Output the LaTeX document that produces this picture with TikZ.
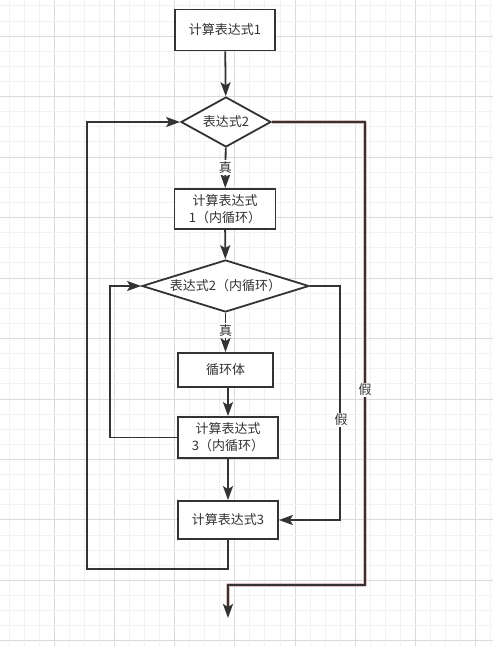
\documentclass[tikz,border=0pt]{standalone}
\usepackage{fontspec}
\setmainfont{Noto Sans CJK SC}
\usetikzlibrary{arrows.meta,shapes.geometric}
\definecolor{ink}{RGB}{51,51,51}
\definecolor{gridminor}{RGB}{242,242,242}
\definecolor{gridmajor}{RGB}{218,218,218}
\definecolor{halo}{RGB}{222,190,190}
\tikzset{
  box/.style={draw=ink, line width=1.8, fill=white, inner sep=2, align=center,
    font=\fontsize{13}{17}\selectfont, text=ink},
  cond/.style={draw=ink, line width=1.8, fill=white, shape=diamond, inner sep=0,
    font=\fontsize{13}{17}\selectfont, text=ink},
  flow/.style={draw=ink, line width=1.8, -{Stealth[length=14, width=10, inset=3]}},
  tag/.style={fill=white, inner sep=1.5, font=\fontsize{13}{16}\selectfont, text=ink}
}
\begin{document}
\begin{tikzpicture}[x=1pt,y=-1pt]
\useasboundingbox (0,0) rectangle (493,646);
\fill[white] (0,0) rectangle (493,646);
% grid
\foreach \i in {0,...,32} {
  \pgfmathsetmacro{\gx}{9+15.05*\i}
  \pgfmathtruncatemacro{\gm}{mod(\i,4)}
  \ifnum\gm=3 \draw[gridmajor, line width=0.8] (\gx,0) -- (\gx,646);
  \else \draw[gridminor, line width=0.8] (\gx,0) -- (\gx,646); \fi
}
\foreach \j in {0,...,42} {
  \pgfmathsetmacro{\gy}{5.8+15.12*\j}
  \pgfmathtruncatemacro{\gm}{mod(\j,4)}
  \ifnum\gm=2 \draw[gridmajor, line width=0.8] (0,\gy) -- (493,\gy);
  \else \draw[gridminor, line width=0.8] (0,\gy) -- (493,\gy); \fi
}
% outer loop
\node[box, minimum width=100, minimum height=41] (init) at (225,30) {计算表达式1};
\node[cond, minimum width=90, minimum height=50, shape aspect=1.8] (test) at (226,122) {表达式2};
\node[box, minimum width=101, minimum height=40] (initin) at (225,209) {计算表达式\\1（内循环）};
% inner loop
\node[cond, minimum width=167, minimum height=52, shape aspect=3.2] (testin) at (225.5,286) {表达式2（内循环）};
\node[box, minimum width=95, minimum height=34] (body) at (225.5,370) {循环体};
\node[box, minimum width=100, minimum height=41] (stepin) at (228,437.5) {计算表达式\\3（内循环）};
\node[box, minimum width=100, minimum height=38] (stepout) at (228,520) {计算表达式3};
\coordinate (innerfalse) at (340,520);
\coordinate (outerback) at (87,569);
\coordinate (outerfalse) at (365,585);
\coordinate (exit) at (228,618);

\draw[flow] (init) -- (test);
\draw[flow] (test) -- node[tag] {真} (initin);
\draw[flow] (initin) -- (testin);
\draw[flow] (testin) -- node[tag, pos=0.45] {真} (body);
\draw[flow] (stepin.north |- body.south) -- (stepin.north);
\draw[flow] (stepin) -- (stepout);
\draw[flow] (stepin.west) -- ++(-67,0) |- (testin.west);
\draw[flow] (testin.east) -| (innerfalse) -- (stepout.east);
\node[tag] (fin) at (341,420) {假};
\draw[flow] (stepout.south) |- (outerback) |- (test.west);
% exit branch
\draw[halo, line width=3.4, line join=round, shorten >=10] (test.east) -| (outerfalse) -| (exit);
\draw[flow] (test.east) -| (outerfalse) -| (exit);
\node[tag] (fout) at (365,390) {假};
\end{tikzpicture}
\end{document}
